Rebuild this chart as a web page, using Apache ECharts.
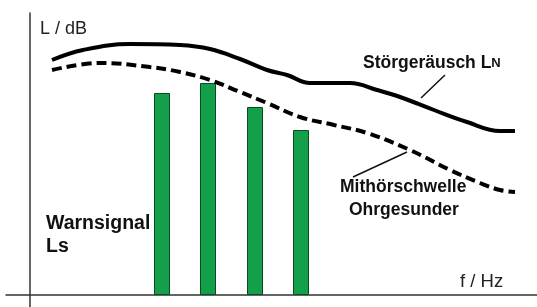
<!DOCTYPE html>
<html>
<head>
<meta charset="utf-8">
<script src="https://cdn.jsdelivr.net/npm/echarts@6/dist/echarts.min.js"></script>
<style>
  html, body { margin: 0; padding: 0; background: #fff; }
  #chart { width: 537px; height: 307px; }
</style>
</head>
<body>
<div id="chart"></div>
<script>
// Frequenz (willkürliche Einheiten) und Pegel
var noiseF = [22, 53, 100, 150, 180, 210, 237, 257, 280, 320, 347, 370, 404, 437, 470, 485];
var noiseL = [235, 245, 251, 250, 246, 236, 225, 220, 212, 212, 205, 198, 185, 173, 164, 164];
var threshF = [22, 70, 120, 150, 180, 210, 237, 270, 304, 337, 380, 420, 450, 470, 485];
var threshL = [225, 232, 228, 223, 215, 203, 192, 178, 170, 162, 145, 125, 112, 105, 103];
var signalF = [132, 178, 225, 271];
var signalL = [202, 212, 188, 165];

function pairs(xs, ys) {
    var out = [];
    for (var i = 0; i < xs.length; i++) {
        out.push([xs[i], ys[i]]);
    }
    return out;
}

var myChart = echarts.init(document.getElementById("chart"));
var font = "Liberation Sans, Arial, sans-serif";

var option = {
    animation: false,
    grid: { left: 6, right: 0, top: 13, bottom: 0 },
    xAxis: {
        type: "value",
        min: -24,
        max: 507,
        axisLine: { show: true, onZero: true, lineStyle: { color: "#333", width: 1.5 } },
        axisTick: { show: false },
        axisLabel: { show: false },
        splitLine: { show: false }
    },
    yAxis: {
        type: "value",
        min: -12,
        max: 282,
        axisLine: { show: true, onZero: true, lineStyle: { color: "#333", width: 1.5 } },
        axisTick: { show: false },
        axisLabel: { show: false },
        splitLine: { show: false }
    },
    series: [
        {
            name: "Warnsignal",
            type: "bar",
            data: pairs(signalF, signalL),
            barWidth: 16,
            itemStyle: { color: "#14a04b", borderColor: "#0c4a26", borderWidth: 1 }
        },
        {
            name: "Störgeräusch",
            type: "line",
            data: pairs(noiseF, noiseL),
            smooth: 0.4,
            symbol: "none",
            lineStyle: { color: "#000", width: 4 }
        },
        {
            name: "Mithörschwelle",
            type: "line",
            data: pairs(threshF, threshL),
            smooth: 0.4,
            symbol: "none",
            lineStyle: { color: "#000", width: 4, type: [10, 5] }
        }
    ],
    graphic: [
        { type: "text", left: 40, top: 20, style: { text: "L / dB", font: "18px " + font, fill: "#222" } },
        {
            type: "text", left: 363, top: 54,
            style: {
                text: "{a|Störgeräusch L}{b|N}",
                rich: {
                    a: { font: "bold 17.5px " + font, fill: "#111" },
                    b: { font: "bold 13px " + font, fill: "#111" }
                }
            }
        },
        { type: "line", shape: { x1: 445, y1: 75, x2: 421, y2: 98 }, style: { stroke: "#111", lineWidth: 1.5 } },
        { type: "text", left: 340, top: 178, style: { text: "Mithörschwelle", font: "bold 17.5px " + font, fill: "#111" } },
        { type: "text", left: 349, top: 201, style: { text: "Ohrgesunder", font: "bold 17.5px " + font, fill: "#111" } },
        { type: "line", shape: { x1: 353, y1: 177, x2: 407, y2: 152 }, style: { stroke: "#111", lineWidth: 1.5 } },
        { type: "text", left: 46, top: 214, style: { text: "Warnsignal", font: "bold 19.5px " + font, fill: "#111" } },
        { type: "text", left: 46, top: 237, style: { text: "Ls", font: "bold 19.5px " + font, fill: "#111" } },
        { type: "text", left: 460, top: 272, style: { text: "f / Hz", font: "18.5px " + font, fill: "#222" } }
    ]
};

myChart.setOption(option);
window.addEventListener("resize", function () {
    myChart.resize();
});
</script>
</body>
</html>
